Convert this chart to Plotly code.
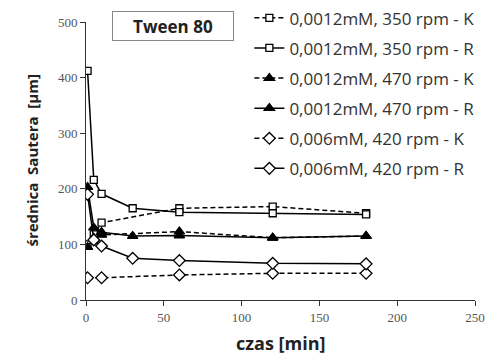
import plotly.graph_objects as go

t_350K = [1, 5, 10, 60, 120, 180]
v_350K = [100, 118, 139, 165, 168, 156]
t_350R = [1, 5, 10, 30, 60, 120, 180]
v_350R = [412, 216, 191, 165, 158, 156, 154]
t_470K = [1, 5, 10, 60, 120, 180]
v_470K = [95, 112, 117, 123, 112, 115]
t_470R = [1, 5, 10, 30, 60, 120, 180]
v_470R = [203, 130, 122, 115, 116, 112, 115]
t_420K = [1, 10, 60, 120, 180]
v_420K = [40, 40, 45, 48, 48]
t_420R = [1, 5, 10, 30, 60, 120, 180]
v_420R = [190, 108, 97, 75, 71, 66, 65]

names = ["0,0012mM, 350 rpm - K", "0,0012mM, 350 rpm - R",
         "0,0012mM, 470 rpm - K", "0,0012mM, 470 rpm - R",
         "0,006mM, 420 rpm - K", "0,006mM, 420 rpm - R"]

series = [
    (t_350K, v_350K, "dash", "square", "white", 7),
    (t_350R, v_350R, "solid", "square", "white", 7),
    (t_470K, v_470K, "dash", "triangle-up", "black", 9),
    (t_470R, v_470R, "solid", "triangle-up", "black", 9),
    (t_420K, v_420K, "dash", "diamond", "white", 9),
    (t_420R, v_420R, "solid", "diamond", "white", 9),
]

fig = go.Figure()
for i, (x, y, dash, sym, fill, sz) in enumerate(series):
    fig.add_trace(go.Scatter(
        x=x, y=y, name=names[i], mode="lines+markers",
        legendgroup=str(i),
        line=dict(color="black", width=1.5, dash=dash if dash == "solid" else "5px,3px"),
        marker=dict(symbol=sym, size=sz, color=fill, line=dict(color="black", width=1.3)),
    ))

tickfont = dict(family="Liberation Serif, serif", size=13, color="#555")
fig.update_xaxes(range=[0, 250], tickvals=[0, 50, 100, 150, 200, 250],
                 showgrid=False, zeroline=False, showline=True, linecolor="#333",
                 linewidth=1, ticks="outside", ticklen=5, tickcolor="#333",
                 tickfont=tickfont, automargin=False)
fig.update_yaxes(range=[0, 500], tickvals=[0, 100, 200, 300, 400, 500],
                 showgrid=False, zeroline=False, showline=True, linecolor="#333",
                 linewidth=1, ticks="outside", ticklen=5, tickcolor="#333",
                 tickfont=tickfont, automargin=False)

fig.add_annotation(xref="paper", yref="paper", x=-0.14, y=0.5,
                   xanchor="center", yanchor="middle", textangle=-90,
                   text="<b>średnica  Sautera  [µm]</b>", showarrow=False,
                   font=dict(family="Open Sans", size=15, color="#222"))
fig.add_annotation(xref="paper", yref="paper", x=0.5, y=-0.155,
                   xanchor="center", yanchor="middle",
                   text="<b>czas [min]</b>", showarrow=False,
                   font=dict(family="Open Sans", size=18, color="#222"))

fig.add_annotation(xref="paper", yref="paper", x=0.223, y=0.984, xanchor="center", yanchor="middle",
                   text="<b>Tween 80</b>", showarrow=False,
                   font=dict(family="Open Sans", size=17, color="#222"),
                   bordercolor="#888", borderwidth=1, borderpad=3, bgcolor="white",
                   width=114, height=22)

fig.update_layout(
    width=486, height=358,
    margin=dict(l=86, r=11, t=22, b=58, autoexpand=False),
    plot_bgcolor="white", paper_bgcolor="white",
    showlegend=True,
    legend=dict(x=0.42, y=1.078, xanchor="left", yanchor="top",
                font=dict(family="Open Sans", size=17, color="#333"),
                tracegroupgap=5, itemwidth=30, bgcolor="rgba(0,0,0,0)",
                maxheight=340),
)
fig.write_html("out.html", config={"displayModeBar": False},
               post_script="document.body.style.margin='0';document.body.style.overflow='hidden';")
